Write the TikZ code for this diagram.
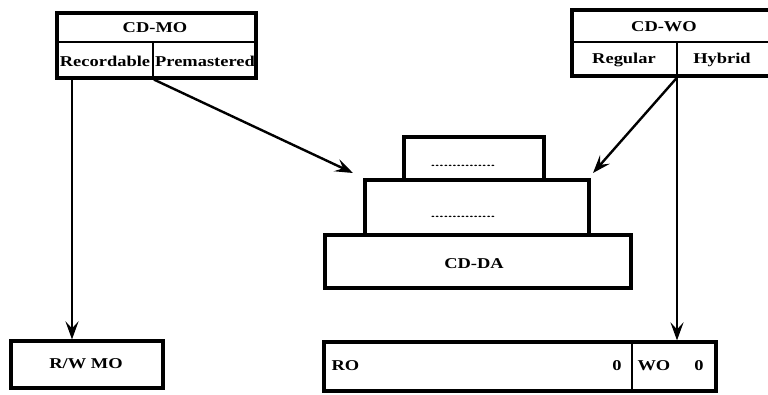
\documentclass[tikz,border=0pt]{standalone}
\usepackage{graphicx}
\usepackage{fontspec}
\setmainfont{Liberation Serif}
\usetikzlibrary{arrows.meta,calc}

% wide, heavy labels as used throughout the figure
\newcommand{\lbl}[1]{\scalebox{1.23}[1]{\fontsize{15}{17}\selectfont\bfseries #1}}
\newcommand{\dotrow}{\scalebox{1.9}[1]{\fontsize{9}{10}\selectfont\bfseries ...............}}

\tikzset{
  box/.style={draw=black, line width=3.2pt, fill=white, inner sep=0pt},
  rule/.style={line width=2.6pt},
  link/.style={line width=2.4pt, draw=black,
               -{Stealth[length=18pt,width=13pt,inset=7pt]}},
}

\begin{document}
\begin{tikzpicture}[x=1pt,y=-1pt]
  \useasboundingbox (0,0) rectangle (768,394);
  \clip (0,0) rectangle (768,394);

  % ---- CD-MO family (left) ----
  \node[box, minimum width=199pt, minimum height=65pt] (mo) at (156.5,45.5) {};
  \draw[rule] (mo.west |- 0,42) -- (mo.east |- 0,42);
  \draw[rule] (153,42) -- (mo.south -| 153,0);
  \node (motitle) at (155,28) {\lbl{CD-MO}};
  \node (rec) at (105,61) {\lbl{Recordable}};
  \node (pre) at (205,61) {\lbl{Premastered}};

  % ---- CD-WO family (right) ----
  \node[box, minimum width=203pt, minimum height=66pt] (wo) at (673.5,43) {};
  \draw[rule] (wo.west |- 0,42) -- (wo.east |- 0,42);
  \draw[rule] (677,42) -- (wo.south -| 677,0);
  \node (wotitle) at (664,27) {\lbl{CD-WO}};
  \node (reg) at (624,60) {\lbl{Regular}};
  \node (hyb) at (722,60) {\lbl{Hybrid}};

  % ---- stacked disc formats (centre) ----
  \node[box, minimum width=140pt, minimum height=43pt] (top) at (474,158.5) {};
  \node[box, minimum width=224pt, minimum height=55pt] (mid) at (477,207.5) {};
  \node[box, minimum width=306pt, minimum height=53pt] (da) at (478,261.5) {};
  \node (datext) at (474,264) {\lbl{CD-DA}};
  \node (topdots) at (463,166) {\dotrow};
  \node (middots) at (463,217) {\dotrow};

  % ---- bottom boxes ----
  \node[box, minimum width=152pt, minimum height=47pt] (rw) at (87,364.5) {};
  \node (rwtext) at (86,364) {\lbl{R/W MO}};
  \node[box, minimum width=392pt, minimum height=49pt] (rowo) at (520,366.5) {};
  \draw[rule] (rowo.north -| 632,0) -- (rowo.south -| 632,0);
  \node[anchor=west] (ro) at (328,366) {\lbl{RO}};
  \node (roz) at (617,366) {\lbl{0}};
  \node[anchor=west] (wol) at (634,366) {\lbl{WO}};
  \node (woz) at (699,366) {\lbl{0}};

  % ---- connector end points ----
  \coordinate (recout) at (mo.south -| 72,0);
  \coordinate (preout) at (mo.south -| 154,0);
  \coordinate (hybout) at (wo.south -| 677,0);
  \coordinate (rwin) at (rw.north -| 72,0);
  \coordinate (woin) at (rowo.north -| 677,0);
  \coordinate (stackL) at (353,173);
  \coordinate (stackR) at (593,173);

  % ---- connectors ----
  \draw[link] (recout) -- (rwin);
  \draw[link] (preout) -- (stackL);
  \draw[link] (hybout) -- (stackR);
  \draw[link] (hybout) -- (woin);
\end{tikzpicture}
\end{document}
